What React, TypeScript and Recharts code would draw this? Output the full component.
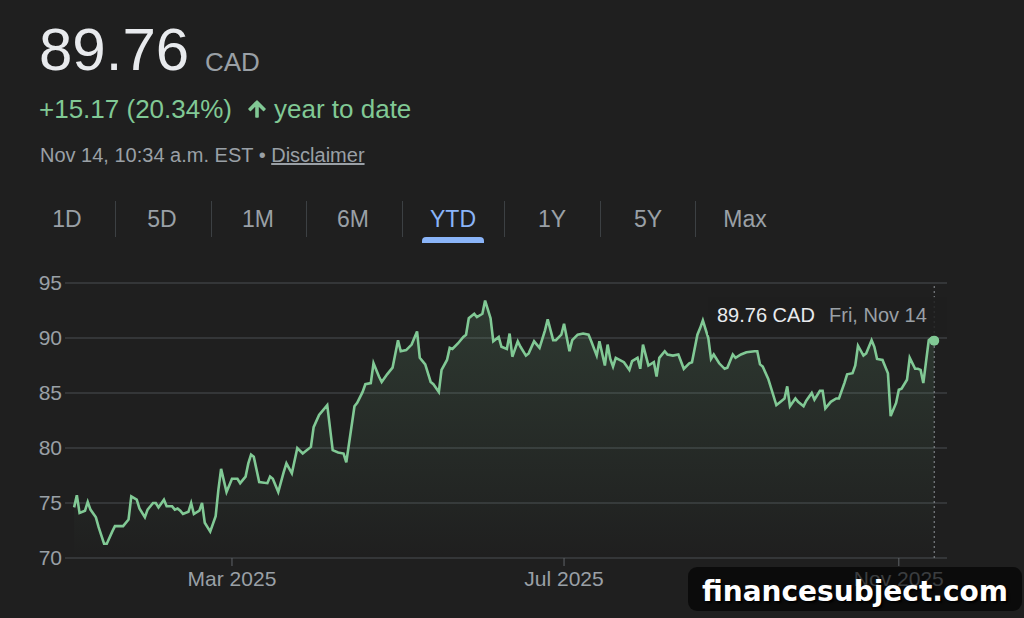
import React from 'react';
import {
  AreaChart,
  Area,
  XAxis,
  YAxis,
  CartesianGrid,
  ReferenceLine,
  ReferenceDot,
} from 'recharts';

// Trading sessions, as day of year 2025 (Jan 1 = 0), and closing prices in CAD
const dayOfYear = [
  1, 2, 3, 5, 6, 7, 9, 10, 12, 13, 15, 16, 18, 19, 21, 22, 24, 25, 27, 28,
  30, 31, 32, 34, 35, 37, 38, 39, 40, 41, 43, 44, 45, 47, 48, 49, 51, 53, 54, 55,
  57, 59, 61, 62, 64, 65, 66, 67, 69, 72, 73, 74, 76, 78, 79, 81, 83, 85, 86, 88,
  89, 91, 94, 96, 98, 100, 101, 104, 105, 107, 108, 110, 111, 113, 114, 116, 118, 120, 121, 123,
  125, 127, 128, 130, 132, 133, 135, 136, 138, 139, 140, 142, 144, 145, 146, 148, 149, 151, 152, 154,
  155, 157, 158, 160, 161, 162, 164, 165, 167, 168, 170, 171, 172, 174, 175, 177, 178, 180, 181, 183,
  184, 186, 188, 190, 191, 193, 194, 196, 197, 198, 199, 200, 203, 205, 206, 208, 209, 210, 212, 214,
  215, 216, 218, 219, 221, 223, 225, 227, 228, 230, 231, 232, 234, 235, 236, 238, 240, 241, 243, 244,
  246, 248, 251, 252, 253, 254, 256, 259, 260, 262, 263, 264, 266, 267, 269, 270, 272, 273, 275, 276,
  277, 279, 281, 282, 284, 285, 287, 288, 289, 291, 292, 294, 295, 296, 298, 300, 301, 303, 304, 305,
  307, 308, 310, 311, 312, 313, 315, 316, 317,
];

const closePrice = [
  74.6, 75.7, 74.1, 74.3, 75.1, 74.4, 73.7, 72.8, 71.3, 71.3, 72.4, 72.9, 72.9, 72.9, 73.5, 75.6, 75.3, 74.5, 73.7, 74.4,
  75.0, 75.0, 74.6, 75.3, 74.7, 74.7, 74.4, 74.5, 74.3, 74.0, 74.2, 75.0, 74.0, 74.3, 75.0, 73.2, 72.4, 73.8, 76.2, 78.1,
  76.0, 77.2, 77.2, 76.8, 77.4, 78.6, 79.4, 79.2, 76.9, 76.8, 77.4, 77.2, 76.0, 77.8, 78.6, 77.7, 80.0, 79.5, 79.7, 80.1,
  81.9, 83.0, 83.9, 79.8, 79.6, 79.5, 78.7, 83.8, 84.1, 85.1, 85.8, 85.9, 87.7, 86.5, 86.0, 86.7, 87.3, 89.8, 88.8, 88.9,
  89.4, 90.6, 88.2, 87.6, 86.0, 85.8, 85.1, 87.1, 88.0, 89.1, 89.0, 89.5, 90.1, 90.3, 91.8, 92.2, 91.9, 92.2, 93.4, 91.8,
  89.7, 90.1, 89.2, 89.0, 90.4, 88.3, 89.7, 89.2, 88.4, 88.6, 89.7, 89.4, 89.1, 90.7, 91.7, 89.8, 89.8, 90.3, 91.3, 88.8,
  89.8, 90.3, 90.4, 90.3, 89.7, 88.4, 89.7, 87.5, 89.4, 88.1, 87.4, 88.2, 87.8, 87.1, 87.9, 88.2, 87.2, 89.4, 87.5, 87.8,
  86.5, 88.2, 88.8, 88.5, 88.4, 88.5, 87.2, 87.7, 87.8, 90.3, 90.9, 91.6, 90.0, 88.1, 88.5, 87.7, 87.2, 87.3, 88.5, 88.2,
  88.5, 88.7, 88.8, 88.8, 87.6, 87.4, 86.3, 83.9, 84.1, 84.5, 85.6, 83.8, 84.5, 84.2, 83.8, 84.3, 85.0, 84.4, 85.2, 85.2,
  83.6, 84.2, 84.5, 84.5, 85.9, 86.7, 86.8, 87.5, 89.3, 88.4, 88.6, 89.8, 89.2, 88.1, 88.0, 86.8, 82.9, 84.1, 85.3, 85.4,
  86.2, 88.2, 87.2, 87.2, 87.1, 85.9, 89.8, 90.0, 89.76,
];

const priceTicks = [70, 75, 80, 85, 90, 95];
const monthTicks = [59, 181, 304];
const monthLabels = ['Mar 2025', 'Jul 2025', 'Nov 2025'];
const rangeTabs = ['1D', '5D', '1M', '6M', 'YTD', '1Y', '5Y', 'Max'];
const activeTab = 'YTD';

const data = dayOfYear.map((day, i) => ({ day, price: closePrice[i] }));
const last = data[data.length - 1];

const BG = '#1f1f1f';
const GREEN = '#81c995';
const GREY = '#9aa0a6';
const BLUE = '#8ab4f8';
const ASC = 0.8465;

function Txt({ x, base, size, color, children, style }: any) {
  return (
    <div
      style={{
        position: 'absolute',
        left: x,
        top: base - size * ASC,
        fontSize: size,
        lineHeight: `${size}px`,
        color,
        whiteSpace: 'nowrap',
        ...style,
      }}
    >
      {children}
    </div>
  );
}

const tabCenters = [67, 162, 258, 353, 453, 552, 648, 745];
const tabSeparators = [115, 211, 306, 402, 504, 600, 695];

export default function App() {
  return (
    <div
      style={{
        position: 'absolute',
        left: 0,
        top: 0,
        width: 1024,
        height: 618,
        background: BG,
        overflow: 'hidden',
        fontFamily: '"Liberation Sans", Arial, sans-serif',
      }}
    >
      {/* Quote header */}
      <Txt x={39} base={71} size={60} color="#e8eaed">
        {last.price.toFixed(2)}
      </Txt>
      <Txt x={205} base={71} size={26} color={GREY}>
        CAD
      </Txt>
      <Txt x={39} base={118} size={26} color={GREEN}>
        +15.17 (20.34%)
      </Txt>
      <svg
        width={24}
        height={24}
        viewBox="0 0 24 24"
        style={{ position: 'absolute', left: 245, top: 97 }}
      >
        <path
          d="M4 12l1.41 1.41L11 7.83V20h2V7.83l5.58 5.59L20 12l-8-8-8 8z"
          fill={GREEN}
          stroke={GREEN}
          strokeWidth={1.6}
          strokeLinejoin="round"
        />
      </svg>
      <Txt x={274} base={118} size={26} color={GREEN}>
        year to date
      </Txt>
      <Txt x={40} base={161.5} size={20} color={GREY}>
        Nov 14, 10:34 a.m. EST •{' '}
        <span style={{ textDecoration: 'underline' }}>Disclaimer</span>
      </Txt>

      {/* Range tabs */}
      {rangeTabs.map((t, i) => (
        <div
          key={t}
          style={{
            position: 'absolute',
            left: tabCenters[i] - 50,
            width: 100,
            top: 227 - 23 * ASC,
            fontSize: 23,
            lineHeight: '23px',
            textAlign: 'center',
            color: t === activeTab ? BLUE : GREY,
          }}
        >
          {t}
        </div>
      ))}
      {tabSeparators.map((x) => (
        <div
          key={x}
          style={{
            position: 'absolute',
            left: x,
            top: 201,
            width: 1,
            height: 36,
            background: '#3c4043',
          }}
        />
      ))}
      <div
        style={{
          position: 'absolute',
          left: 422,
          top: 237,
          width: 62,
          height: 6,
          background: BLUE,
          borderRadius: '4px 4px 0 0',
        }}
      />

      {/* Price chart */}
      <div style={{ position: 'absolute', left: 0, top: 250 }}>
        <AreaChart
          width={1024}
          height={340}
          data={data}
          margin={{ top: 33, right: 77, bottom: 2, left: 0 }}
        >
          <defs>
            <linearGradient id="areaFade" x1="0" y1="0" x2="0" y2="1">
              <stop offset="0%" stopColor={GREEN} stopOpacity={0.26} />
              <stop offset="100%" stopColor={GREEN} stopOpacity={0} />
            </linearGradient>
          </defs>
          <CartesianGrid vertical={false} stroke="#3c3f42" strokeWidth={1.5} />
          <XAxis
            dataKey="day"
            type="number"
            domain={[-2.35, 321.7]}
            allowDataOverflow
            ticks={monthTicks}
            interval={0}
            tickFormatter={(v: number) => monthLabels[monthTicks.indexOf(v)] ?? ''}
            axisLine={false}
            tickSize={8}
            tickMargin={5}
            tickLine={{ stroke: '#5f6368' }}
            tick={{ fill: GREY, fontSize: 21 }}
            height={30}
          />
          <YAxis
            type="number"
            domain={[70, 95]}
            ticks={priceTicks}
            interval={0}
            axisLine={false}
            tickLine={false}
            tickSize={0}
            tickMargin={3}
            width={65}
            tick={{ fill: GREY, fontSize: 21 }}
          />
          <ReferenceLine
            x={last.day}
            stroke="#8f9499"
            strokeDasharray="2 3"
            strokeWidth={1}
          />
          <Area
            type="linear"
            dataKey="price"
            stroke={GREEN}
            strokeWidth={2.6}
            fill="url(#areaFade)"
            dot={false}
            activeDot={false}
            isAnimationActive={false}
          />
          <ReferenceDot x={last.day} y={last.price} r={5} fill={GREEN} stroke="none" />
        </AreaChart>
      </div>

      {/* Hover readout for the latest session */}
      <div
        style={{
          position: 'absolute',
          left: 708,
          top: 297,
          width: 239,
          height: 38,
          background: 'rgba(31,31,31,0.85)',
        }}
      />
      <Txt x={717} base={321.5} size={20} color="#e8eaed">
        {last.price.toFixed(2)} CAD
      </Txt>
      <Txt x={829} base={321.5} size={20} color={GREY}>
        Fri, Nov 14
      </Txt>

      {/* Site badge */}
      <div
        style={{
          position: 'absolute',
          left: 688,
          top: 567,
          width: 334,
          height: 44,
          borderRadius: 9,
          background: 'rgba(0,0,0,0.62)',
        }}
      />
      <Txt
        x={702}
        base={602}
        size={28}
        color="#ffffff"
        style={{
          fontFamily: '"DejaVu Sans", sans-serif',
          fontWeight: 700,
          textShadow: '2px 2px 2px #000',
        }}
      >
        financesubject.com
      </Txt>
    </div>
  );
}
